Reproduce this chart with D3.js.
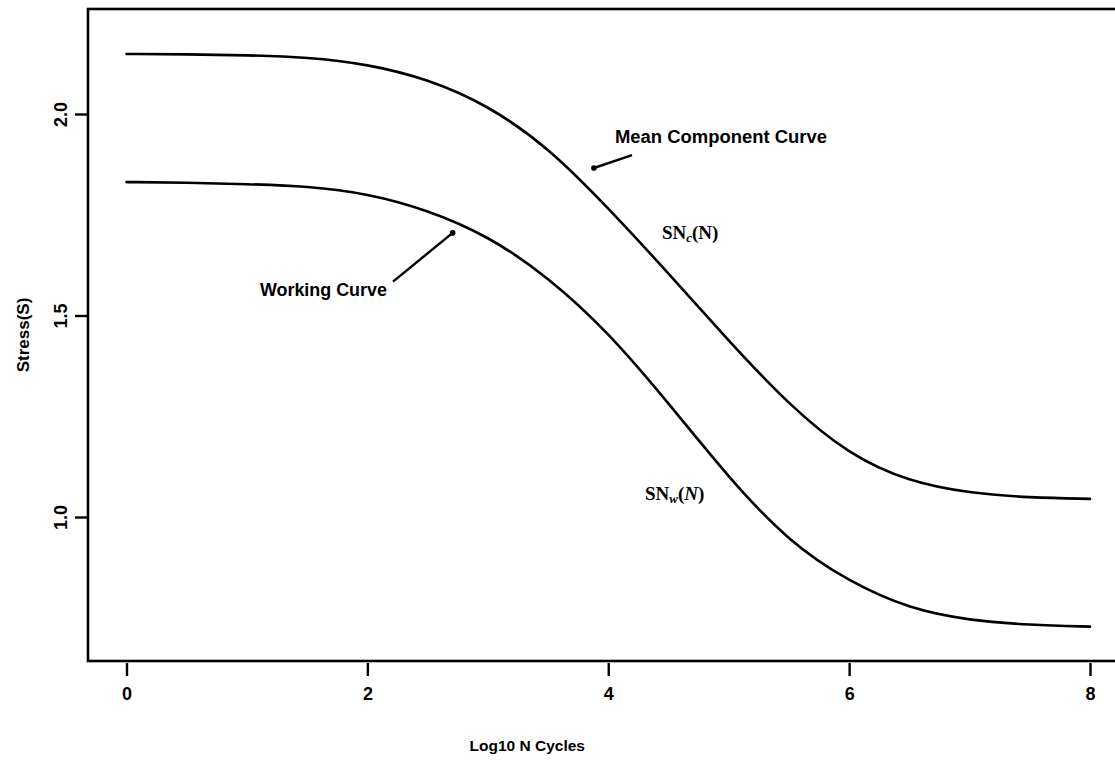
<!DOCTYPE html>
<html>
<head>
<meta charset="utf-8">
<script src="https://cdn.jsdelivr.net/npm/d3@7"></script>
<style>
  html, body { margin: 0; padding: 0; background: #fff; }
  svg { display: block; }
  .tick text { font-family: "Liberation Sans", Arial, sans-serif; font-weight: 700; }
</style>
</head>
<body>
<svg id="chart" width="1115" height="769"></svg>
<script>
// S-N curves: stress vs log10 cycles
const logN = [0, 0.5, 1, 1.5, 2, 2.5, 3, 3.5, 4, 4.5, 5, 5.5, 6, 6.5, 7, 7.5, 8];
const meanComponent = [2.149, 2.148, 2.146, 2.141, 2.124, 2.087, 2.022, 1.918, 1.767,
  1.605, 1.437, 1.278, 1.154, 1.087, 1.059, 1.048, 1.045];
const working = [1.831, 1.830, 1.826, 1.821, 1.803, 1.762, 1.698, 1.596, 1.459,
  1.283, 1.097, 0.938, 0.839, 0.772, 0.743, 0.732, 0.728];

const xTicks = [0, 2, 4, 6, 8];
const yTicks = [1.0, 1.5, 2.0];
const xTitle = "Log10 N Cycles";
const yTitle = "Stress(S)";

// labels with arrows (data coords)
const arrowNotes = [
  { text: "Mean Component Curve", tx: 4.056, ty: 1.943, from: [4.197, 1.898], to: [3.881, 1.866], width: 212 },
  { text: "Working Curve", tx: 1.108, ty: 1.563, from: [2.213, 1.584], to: [2.708, 1.705], width: 127 }
];
const curveLabels = [
  { base: "SN", sub: "c", arg: "N", italicArg: false, x: 4.446, y: 1.707 },
  { base: "SN", sub: "w", arg: "N", italicArg: true, x: 4.305, y: 1.060 }
];

const svg = d3.select("#chart");
const box = { left: 88, top: 9, right: 1122, bottom: 661 };

const x = d3.scaleLinear().domain([0, 8]).range([126.5, 1090]);
const y = d3.scaleLinear().domain([1, 2]).range([517, 114]);

// frame
svg.append("rect")
  .attr("x", box.left)
  .attr("y", box.top)
  .attr("width", box.right - box.left)
  .attr("height", box.bottom - box.top)
  .attr("fill", "none")
  .attr("stroke", "#000")
  .attr("stroke-width", 2.6);

// x axis
const gx = svg.append("g")
  .attr("transform", `translate(0,${box.bottom + 2})`)
  .call(d3.axisBottom(x).tickValues(xTicks).tickFormat(d3.format("d")).tickSize(13).tickPadding(11));
gx.select(".domain").remove();
gx.selectAll(".tick line").attr("stroke", "#000").attr("stroke-width", 2.4);
gx.selectAll(".tick text").style("font-size", "18px").attr("fill", "#000");

// y axis, labels rotated like the original
const gy = svg.append("g")
  .attr("transform", `translate(${box.left - 1},0)`)
  .call(d3.axisLeft(y).tickValues(yTicks).tickFormat(d3.format(".1f")).tickSize(12).tickPadding(0));
gy.select(".domain").remove();
gy.selectAll(".tick line").attr("stroke", "#000").attr("stroke-width", 2.4);
gy.selectAll(".tick text")
  .style("font-size", "18px")
  .attr("fill", "#000")
  .attr("x", null)
  .attr("dy", null)
  .attr("text-anchor", "middle")
  .attr("transform", "translate(-26,0) rotate(-90)")
  .attr("dominant-baseline", "central");

// axis titles
svg.append("text")
  .attr("x", (x(0) + x(8)) / 2 - 81)
  .attr("y", 751)
  .attr("text-anchor", "middle")
  .attr("font-family", "Liberation Sans, Arial, sans-serif")
  .attr("font-weight", 700)
  .attr("font-size", "15.5px")
  .text(xTitle);

svg.append("text")
  .attr("transform", `translate(29,${335}) rotate(-90)`)
  .attr("text-anchor", "middle")
  .attr("font-family", "Liberation Sans, Arial, sans-serif")
  .attr("font-weight", 700)
  .attr("font-size", "17px")
  .text(yTitle);

// curves
const line = d3.line()
  .x((d, i) => x(logN[i]))
  .y(d => y(d))
  .curve(d3.curveBasis);

[meanComponent, working].forEach(series => {
  svg.append("path")
    .datum(series)
    .attr("fill", "none")
    .attr("stroke", "#000")
    .attr("stroke-width", 2.6)
    .attr("stroke-linecap", "round")
    .attr("d", line);
});

// arrow notes
arrowNotes.forEach(n => {
  svg.append("text")
    .attr("x", x(n.tx))
    .attr("y", y(n.ty))
    .attr("dominant-baseline", "central")
    .attr("font-family", "Liberation Sans, Arial, sans-serif")
    .attr("font-weight", 700)
    .attr("font-size", "17.5px")
    .attr("textLength", n.width)
    .attr("lengthAdjust", "spacingAndGlyphs")
    .text(n.text);
  svg.append("line")
    .attr("x1", x(n.from[0])).attr("y1", y(n.from[1]))
    .attr("x2", x(n.to[0])).attr("y2", y(n.to[1]))
    .attr("stroke", "#000")
    .attr("stroke-width", 2.4);
  svg.append("circle")
    .attr("cx", x(n.to[0])).attr("cy", y(n.to[1]))
    .attr("r", 2.8)
    .attr("fill", "#000");
});

// curve labels SN_c(N), SN_w(N)
curveLabels.forEach(c => {
  const t = svg.append("text")
    .attr("x", x(c.x))
    .attr("y", y(c.y))
    .attr("dominant-baseline", "central")
    .attr("font-family", "Liberation Serif, Times New Roman, serif")
    .attr("font-weight", 700)
    .attr("font-size", "19px");
  t.append("tspan").text(c.base);
  t.append("tspan")
    .attr("font-size", "13px")
    .attr("font-style", "italic")
    .attr("dy", 5)
    .text(c.sub);
  t.append("tspan").attr("dy", -5).text("(");
  t.append("tspan").attr("font-style", c.italicArg ? "italic" : "normal").text(c.arg);
  t.append("tspan").text(")");
});
</script>
</body>
</html>
